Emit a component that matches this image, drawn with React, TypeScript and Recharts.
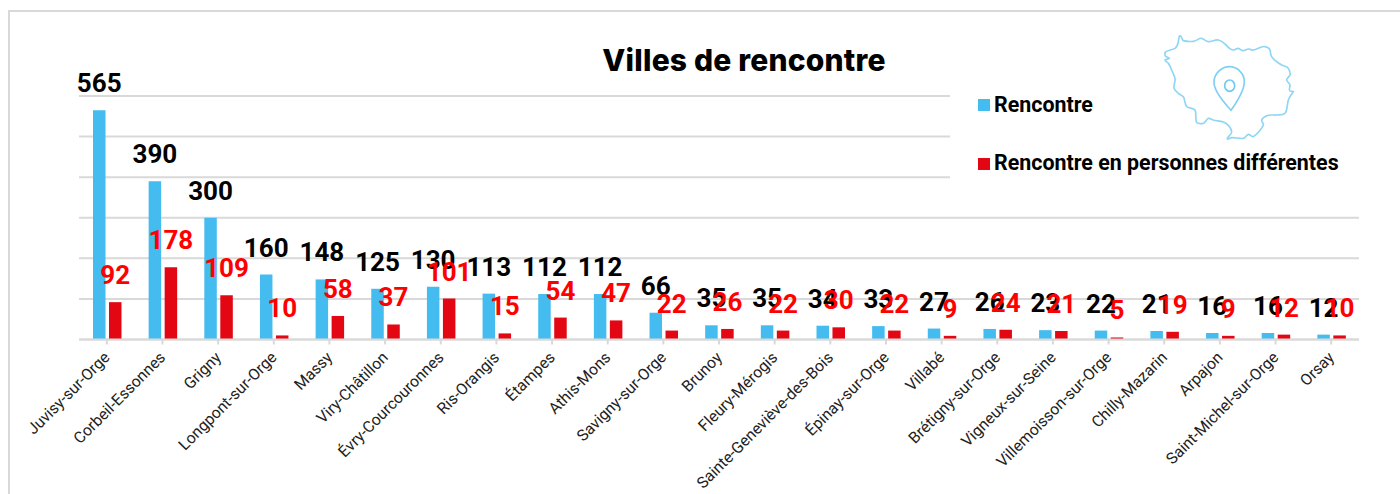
import React from "react";
import { BarChart, Bar, XAxis, YAxis, CartesianGrid, Legend, LabelList } from "recharts";

const cities = ["Juvisy-sur-Orge","Corbeil-Essonnes","Grigny","Longpont-sur-Orge","Massy","Viry-Châtillon","Évry-Courcouronnes","Ris-Orangis","Étampes","Athis-Mons","Savigny-sur-Orge","Brunoy","Fleury-Mérogis","Sainte-Geneviève-des-Bois","Épinay-sur-Orge","Villabé","Brétigny-sur-Orge","Vigneux-sur-Seine","Villemoisson-sur-Orge","Chilly-Mazarin","Arpajon","Saint-Michel-sur-Orge","Orsay"];
const rencontre = [565,390,300,160,148,125,130,113,112,112,66,35,35,34,33,27,26,23,22,21,16,16,12];
const personnes = [92,178,109,10,58,37,101,15,54,47,22,26,22,30,22,9,24,21,5,19,9,12,10];
const yTicks = [0,100,200,300,400,500,600];
const data = cities.map((city, i) => ({ city, rencontre: rencontre[i], personnes: personnes[i] }));

const BLUE = "#45bcef";
const RED = "#e30613";
const GRID = "#d9d9d9";
const FONT = "Roboto, sans-serif";

const MAP_PATH = "M88 33 C95 30 96 45 100 47 C110 50 120 50 130 49 C140 48 148 38 155 40 C163 42 168 50 175 50 C185 50 197 43 205 45 C213 47 220 52 225 57 C232 63 240 75 250 75 C257 75 260 69 265 70 C271 71 274 78 280 77 C287 76 291 71 297 72 C302 73 305 76 310 75 C322 73 335 62 345 65 C353 67 359 70 360 75 C362 82 361 90 365 95 C372 105 385 114 395 120 C403 124 412 124 415 130 C419 137 422 145 420 150 C418 156 409 160 410 165 C411 171 419 174 420 180 C421 186 415 195 420 198 L430 200 C425 208 418 216 415 225 C411 238 412 258 405 265 C398 271 389 269 380 270 C370 271 359 268 350 272 C343 275 337 279 335 285 C334 291 342 294 340 300 C336 311 320 330 310 335 C304 337 300 327 295 328 C289 329 287 339 280 340 C270 342 255 337 245 338 C240 339 234 344 232 342 C230 337 246 328 245 320 C243 309 235 299 225 293 C215 288 201 288 190 285 C184 283 180 279 175 280 C169 282 167 293 160 295 C153 296 145 297 140 293 C135 285 140 263 135 255 C131 249 116 250 110 245 C104 238 105 222 100 215 C96 210 90 209 85 205 C80 201 74 196 72 190 C70 181 77 170 75 160 C73 151 69 144 65 135 C63 128 59 121 55 115 C52 111 45 109 45 105 C46 102 58 103 58 100 C57 97 47 96 45 92 L45 82 C52 76 67 75 75 70 C82 65 84 57 85 50 Z";
const PIN_PATH = "M243 256 C232 242 192 205 192 172 C192 145 215 125 238 125 C262 125 283 145 283 170 C283 200 254 240 243 256 Z";

function LegendBox({ payload }: any) {
  return (
    <div style={{ width: 412, height: 124, background: "#fff", position: "relative" }}>
      {(payload || []).map((item: any, i: number) => (
        <div key={item.value} style={{ position: "absolute", left: 28, top: 14 + i * 58.5, display: "flex", alignItems: "center", height: 24, fontFamily: FONT, fontWeight: 700, fontSize: 21.4, color: "#000", whiteSpace: "nowrap" }}>
          <span style={{ width: 12, height: 12, background: item.color, marginRight: 4, marginTop: 2 }} />
          {item.value}
        </div>
      ))}
    </div>
  );
}

export default function App() {
  return (
    <div style={{ position: "absolute", left: 0, top: 0, width: 1400, height: 494, overflow: "hidden", background: "#fff" }}>
      <div style={{ position: "absolute", left: 8, top: 10, width: 1392, height: 484, borderLeft: `2px solid ${GRID}`, borderTop: `2px solid ${GRID}`, boxSizing: "border-box" }} />
      <BarChart width={1400} height={494} data={data} margin={{ top: 96, right: 41, bottom: 0, left: 79 }} barSize={12.5} barGap={3.5} style={{ position: "absolute", left: 0, top: 0 }}>
        <CartesianGrid vertical={false} stroke={GRID} strokeWidth={2} />
        <XAxis dataKey="city" interval={0} height={154.5} angle={-45} textAnchor="end" tickSize={5} stroke={GRID} strokeWidth={2} tick={{ fontFamily: FONT, fontSize: 15.8, fill: "#222", dx: -4 }} tickMargin={6} />
        <YAxis hide domain={[0, 600]} ticks={yTicks} />
        <Legend verticalAlign="middle" align="center" layout="vertical" content={<LegendBox />} wrapperStyle={{ left: 950, top: 78, width: 412, height: 124 }} />
        <text x={744} y={71} textAnchor="middle" style={{ fontFamily: "Inter, sans-serif", fontWeight: 800, fontSize: 30, letterSpacing: 0.2, fill: "#000" }}>Villes de rencontre</text>
        <Bar dataKey="rencontre" name="Rencontre" fill={BLUE} isAnimationActive={false}>
          <LabelList dataKey="rencontre" position="top" offset={18} style={{ fontFamily: FONT, fontWeight: 700, fontSize: 26, fill: "#000" }} />
        </Bar>
        <Bar dataKey="personnes" name="Rencontre en personnes différentes" fill={RED} isAnimationActive={false}>
          <LabelList dataKey="personnes" position="top" offset={18} style={{ fontFamily: FONT, fontWeight: 700, fontSize: 26, fill: "#ff0000" }} />
        </Bar>
      </BarChart>
      <svg width={170} height={115} viewBox="0 0 510 345" style={{ position: "absolute", left: 1150, top: 25 }}>
        <path d={MAP_PATH} fill="none" stroke="#8fd6f5" strokeWidth={5} />
        <path d={PIN_PATH} fill="none" stroke="#7fd0f3" strokeWidth={5} />
        <ellipse cx={239} cy={182} rx={15} ry={17} fill="none" stroke="#6fcaf2" strokeWidth={5} />
      </svg>
    </div>
  );
}
